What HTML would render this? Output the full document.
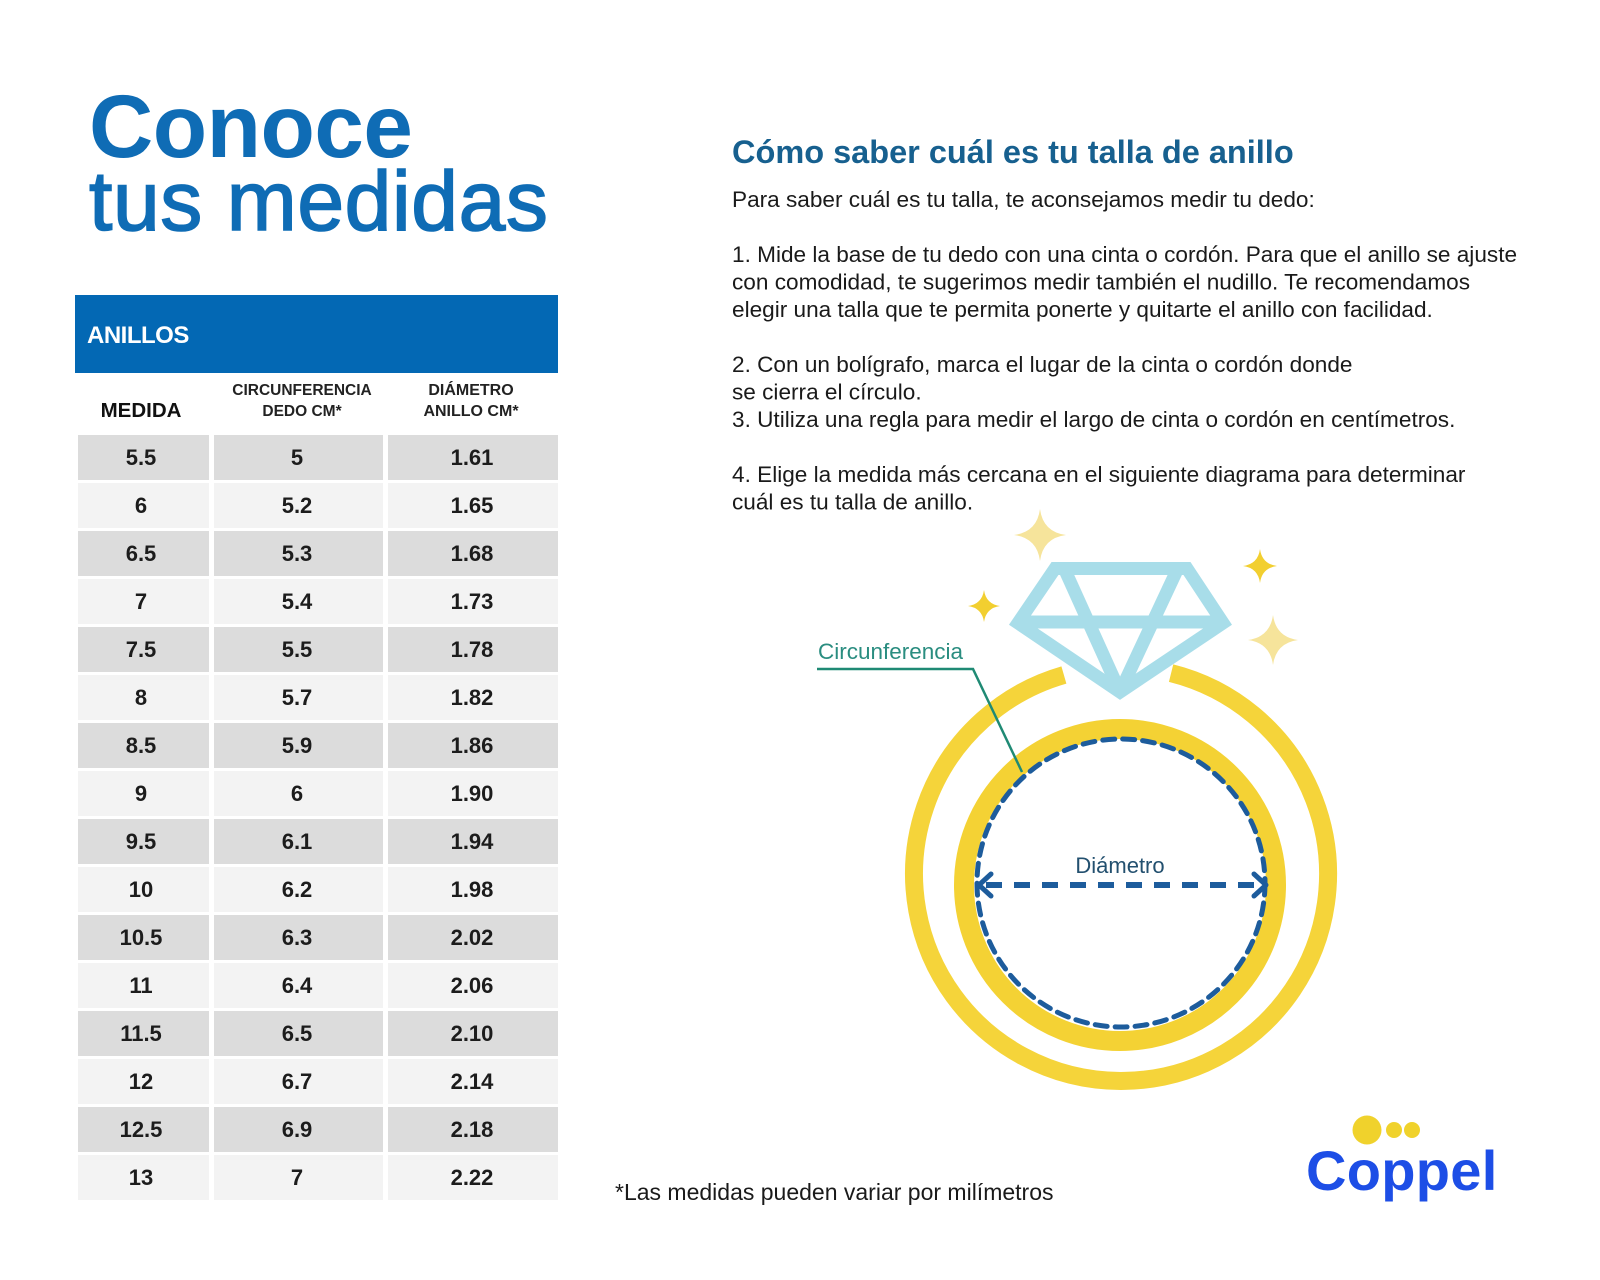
<!DOCTYPE html>
<html>
<head>
<meta charset="utf-8">
<style>
  html, body { margin:0; padding:0; background:#ffffff; }
  svg { display:block; }
  text { font-family: "Liberation Sans", "DejaVu Sans", sans-serif; }
</style>
</head>
<body>
<svg width="1600" height="1280" viewBox="0 0 1600 1280" xmlns="http://www.w3.org/2000/svg">
  <rect x="0" y="0" width="1600" height="1280" fill="#ffffff"/>

  <!-- Left title -->
  <text x="89" y="157" font-size="89" font-weight="bold" fill="#0f6cb5" letter-spacing="-0.5">Conoce</text>
  <text x="89" y="230" font-size="84" fill="#0f6cb5" stroke="#0f6cb5" stroke-width="1.6" letter-spacing="0.6">tus medidas</text>

  <!-- Table header band -->
  <rect x="75" y="295" width="483" height="78" fill="#0368b4"/>
  <text x="87" y="343" font-size="24" font-weight="bold" fill="#ffffff" letter-spacing="-0.5">ANILLOS</text>

  <!-- Column headers -->
  <text x="141" y="417" font-size="20.5" font-weight="bold" fill="#111" text-anchor="middle">MEDIDA</text>
  <text x="302" y="395" font-size="15.5" font-weight="bold" fill="#222" text-anchor="middle">CIRCUNFERENCIA</text>
  <text x="302" y="416" font-size="15.5" font-weight="bold" fill="#222" text-anchor="middle">DEDO CM*</text>
  <text x="471" y="395" font-size="16" font-weight="bold" fill="#222" text-anchor="middle">DIÁMETRO</text>
  <text x="471" y="416" font-size="16" font-weight="bold" fill="#222" text-anchor="middle">ANILLO CM*</text>

  <!-- Table rows -->
  <g font-size="22" font-weight="bold" fill="#1c1c1c" text-anchor="middle">
    <g fill="#dcdcdc"><rect x="78" y="435" width="131" height="45"/><rect x="214" y="435" width="169" height="45"/><rect x="388" y="435" width="170" height="45"/></g>
    <text x="141" y="465">5.5</text><text x="297" y="465">5</text><text x="472" y="465">1.61</text>
    <g fill="#f3f3f3"><rect x="78" y="483" width="131" height="45"/><rect x="214" y="483" width="169" height="45"/><rect x="388" y="483" width="170" height="45"/></g>
    <text x="141" y="513">6</text><text x="297" y="513">5.2</text><text x="472" y="513">1.65</text>
    <g fill="#dcdcdc"><rect x="78" y="531" width="131" height="45"/><rect x="214" y="531" width="169" height="45"/><rect x="388" y="531" width="170" height="45"/></g>
    <text x="141" y="561">6.5</text><text x="297" y="561">5.3</text><text x="472" y="561">1.68</text>
    <g fill="#f3f3f3"><rect x="78" y="579" width="131" height="45"/><rect x="214" y="579" width="169" height="45"/><rect x="388" y="579" width="170" height="45"/></g>
    <text x="141" y="609">7</text><text x="297" y="609">5.4</text><text x="472" y="609">1.73</text>
    <g fill="#dcdcdc"><rect x="78" y="627" width="131" height="45"/><rect x="214" y="627" width="169" height="45"/><rect x="388" y="627" width="170" height="45"/></g>
    <text x="141" y="657">7.5</text><text x="297" y="657">5.5</text><text x="472" y="657">1.78</text>
    <g fill="#f3f3f3"><rect x="78" y="675" width="131" height="45"/><rect x="214" y="675" width="169" height="45"/><rect x="388" y="675" width="170" height="45"/></g>
    <text x="141" y="705">8</text><text x="297" y="705">5.7</text><text x="472" y="705">1.82</text>
    <g fill="#dcdcdc"><rect x="78" y="723" width="131" height="45"/><rect x="214" y="723" width="169" height="45"/><rect x="388" y="723" width="170" height="45"/></g>
    <text x="141" y="753">8.5</text><text x="297" y="753">5.9</text><text x="472" y="753">1.86</text>
    <g fill="#f3f3f3"><rect x="78" y="771" width="131" height="45"/><rect x="214" y="771" width="169" height="45"/><rect x="388" y="771" width="170" height="45"/></g>
    <text x="141" y="801">9</text><text x="297" y="801">6</text><text x="472" y="801">1.90</text>
    <g fill="#dcdcdc"><rect x="78" y="819" width="131" height="45"/><rect x="214" y="819" width="169" height="45"/><rect x="388" y="819" width="170" height="45"/></g>
    <text x="141" y="849">9.5</text><text x="297" y="849">6.1</text><text x="472" y="849">1.94</text>
    <g fill="#f3f3f3"><rect x="78" y="867" width="131" height="45"/><rect x="214" y="867" width="169" height="45"/><rect x="388" y="867" width="170" height="45"/></g>
    <text x="141" y="897">10</text><text x="297" y="897">6.2</text><text x="472" y="897">1.98</text>
    <g fill="#dcdcdc"><rect x="78" y="915" width="131" height="45"/><rect x="214" y="915" width="169" height="45"/><rect x="388" y="915" width="170" height="45"/></g>
    <text x="141" y="945">10.5</text><text x="297" y="945">6.3</text><text x="472" y="945">2.02</text>
    <g fill="#f3f3f3"><rect x="78" y="963" width="131" height="45"/><rect x="214" y="963" width="169" height="45"/><rect x="388" y="963" width="170" height="45"/></g>
    <text x="141" y="993">11</text><text x="297" y="993">6.4</text><text x="472" y="993">2.06</text>
    <g fill="#dcdcdc"><rect x="78" y="1011" width="131" height="45"/><rect x="214" y="1011" width="169" height="45"/><rect x="388" y="1011" width="170" height="45"/></g>
    <text x="141" y="1041">11.5</text><text x="297" y="1041">6.5</text><text x="472" y="1041">2.10</text>
    <g fill="#f3f3f3"><rect x="78" y="1059" width="131" height="45"/><rect x="214" y="1059" width="169" height="45"/><rect x="388" y="1059" width="170" height="45"/></g>
    <text x="141" y="1089">12</text><text x="297" y="1089">6.7</text><text x="472" y="1089">2.14</text>
    <g fill="#dcdcdc"><rect x="78" y="1107" width="131" height="45"/><rect x="214" y="1107" width="169" height="45"/><rect x="388" y="1107" width="170" height="45"/></g>
    <text x="141" y="1137">12.5</text><text x="297" y="1137">6.9</text><text x="472" y="1137">2.18</text>
    <g fill="#f3f3f3"><rect x="78" y="1155" width="131" height="45"/><rect x="214" y="1155" width="169" height="45"/><rect x="388" y="1155" width="170" height="45"/></g>
    <text x="141" y="1185">13</text><text x="297" y="1185">7</text><text x="472" y="1185">2.22</text>
  </g>

  <!-- Right title and instructions -->
  <text x="732" y="163" font-size="32.5" font-weight="bold" fill="#17608f">Cómo saber cuál es tu talla de anillo</text>
  <g font-size="22.6" fill="#1a1a1a">
    <text x="732" y="207">Para saber cuál es tu talla, te aconsejamos medir tu dedo:</text>
    <text x="732" y="262">1. Mide la base de tu dedo con una cinta o cordón. Para que el anillo se ajuste</text>
    <text x="732" y="289.5">con comodidad, te sugerimos medir también el nudillo. Te recomendamos</text>
    <text x="732" y="317">elegir una talla que te permita ponerte y quitarte el anillo con facilidad.</text>
    <text x="732" y="372">2. Con un bolígrafo, marca el lugar de la cinta o cordón donde</text>
    <text x="732" y="399.5">se cierra el círculo.</text>
    <text x="732" y="427">3. Utiliza una regla para medir el largo de cinta o cordón en centímetros.</text>
    <text x="732" y="482">4. Elige la medida más cercana en el siguiente diagrama para determinar</text>
    <text x="732" y="509.5">cuál es tu talla de anillo.</text>
  </g>

  <!-- Sparkles -->
  <g>
    <path d="M1040,509 Q1043,532 1066,535 Q1043,538 1040,561 Q1037,538 1014,535 Q1037,532 1040,509 Z" fill="#f6e49b"/>
    <path d="M1260,549 Q1262,564 1277,566 Q1262,568 1260,583 Q1258,568 1243,566 Q1258,564 1260,549 Z" fill="#f2cf30"/>
    <path d="M984,590 Q986,604 1000,606 Q986,608 984,622 Q982,608 968,606 Q982,604 984,590 Z" fill="#f2cf30"/>
    <path d="M1273,615 Q1276,637 1298,640 Q1276,643 1273,665 Q1270,643 1248,640 Q1270,637 1273,615 Z" fill="#f6e49b"/>
  </g>

  <!-- Diamond -->
  <g fill="none" stroke="#a8dde9" stroke-width="13" stroke-linejoin="miter">
    <polygon points="1055,568.5 1187,568.5 1223,623 1120,692 1018,623"/>
    <line x1="1018" y1="622" x2="1223" y2="622"/>
    <line x1="1064" y1="568" x2="1120" y2="692"/>
    <line x1="1178" y1="568" x2="1120" y2="692"/>
  </g>

  <!-- Outer ring (gap at top) -->
  <path d="M1171.1,673.1 A207,207 0 1 1 1063.9,675.0" fill="none" stroke="#f5d43a" stroke-width="18"/>
  <!-- Inner ring -->
  <circle cx="1120" cy="885" r="156" fill="none" stroke="#f4d234" stroke-width="20"/>
  <!-- Dashed circumference -->
  <circle cx="1121" cy="883" r="144" fill="none" stroke="#1d5c9c" stroke-width="5" stroke-dasharray="12 8" stroke-linecap="round"/>

  <!-- Diameter arrow -->
  <line x1="986" y1="885" x2="1260" y2="885" stroke="#1d5c9c" stroke-width="6" stroke-dasharray="16 12"/>
  <polyline points="991,874 979,885 991,896" fill="none" stroke="#1d5c9c" stroke-width="5" stroke-linecap="round" stroke-linejoin="round"/>
  <polyline points="1254,874 1266,885 1254,896" fill="none" stroke="#1d5c9c" stroke-width="5" stroke-linecap="round" stroke-linejoin="round"/>
  <text x="1120" y="873" font-size="22" fill="#23506f" text-anchor="middle">Diámetro</text>

  <!-- Circunferencia label -->
  <text x="818" y="659" font-size="22.5" fill="#2a8d80">Circunferencia</text>
  <polyline points="817,669 973,669 1022,772" fill="none" stroke="#1f8a74" stroke-width="2.5"/>

  <!-- Footnote -->
  <text x="615" y="1200" font-size="23" fill="#1a1a1a">*Las medidas pueden variar por milímetros</text>

  <!-- Coppel logo -->
  <circle cx="1367" cy="1130" r="14.5" fill="#f0d22c"/>
  <circle cx="1394" cy="1130" r="8" fill="#f0d22c"/>
  <circle cx="1412" cy="1130" r="8" fill="#f0d22c"/>
  <text x="1306" y="1190" font-size="56" font-weight="bold" fill="#1d4ee6" letter-spacing="0.3">Coppel</text>
</svg>
</body>
</html>
